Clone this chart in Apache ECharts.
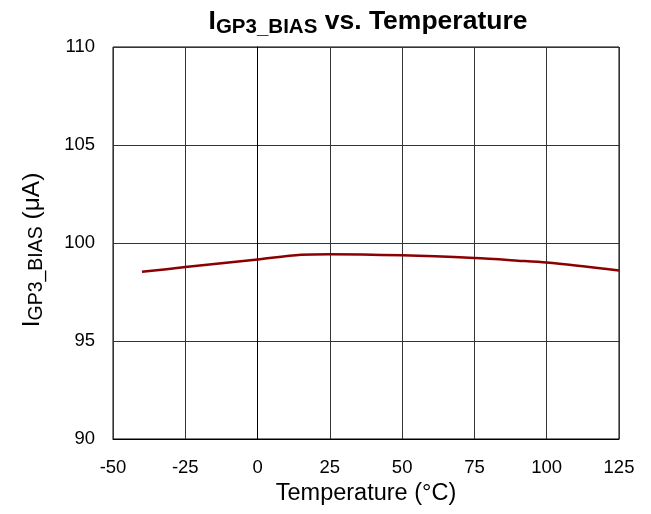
<!DOCTYPE html>
<html>
<head>
<meta charset="utf-8">
<script src="https://cdn.jsdelivr.net/npm/echarts@6/dist/echarts.min.js"></script>
<style>html,body{margin:0;padding:0;background:#fff;}#c{width:651px;height:514px;}</style>
</head>
<body>
<div id="c"></div>
<script>
const temperatures = [-40, -25, 0, 15, 25, 50, 75, 90, 100, 125];
const biasCurrent = [98.53, 98.77, 99.16, 99.40, 99.43, 99.37, 99.23, 99.10, 99.00, 98.60];
const xTicks = [-50, -25, 0, 25, 50, 75, 100, 125];
const yTicks = [90, 95, 100, 105, 110];

const chart = echarts.init(document.getElementById('c'), null, {renderer: 'canvas'});
const font = 'Arial, "Liberation Sans", sans-serif';
chart.setOption({
  animation: false,
  backgroundColor: '#fff',
  title: {
    text: '{m|I}{s|GP3_BIAS}{m| vs. Temperature}',
    left: 363, top: 0, textAlign: 'center',
    textStyle: {
      rich: {
        m: {fontFamily: font, fontSize: 26.5, fontWeight: 'bold', color: '#000'},
        s: {fontFamily: font, fontSize: 20.5, fontWeight: 'bold', color: '#000', padding: [12, 0, 0, 0]}
      }
    }
  },
  grid: {left: 113, right: 32, top: 47, bottom: 75, show: true, borderColor: '#000', borderWidth: 1},
  xAxis: {
    type: 'value', min: xTicks[0], max: xTicks[xTicks.length - 1], interval: 25,
    name: 'Temperature (°C)', nameLocation: 'middle', nameGap: 43,
    nameTextStyle: {fontFamily: font, fontSize: 23.5, color: '#000'},
    axisLine: {show: true, lineStyle: {color: '#000'}},
    axisTick: {show: false},
    axisLabel: {fontFamily: font, fontSize: 18.5, color: '#000', margin: 19},
    splitLine: {show: true, lineStyle: {color: '#333', width: 1}}
  },
  yAxis: {
    type: 'value', min: yTicks[0], max: yTicks[yTicks.length - 1], interval: 5,
    name: '{m|I}{s|GP3_BIAS}{m| (μA)}', nameLocation: 'middle', nameGap: 66,
    nameTextStyle: {
      padding: [0, 14, 0, 0],
      rich: {
        m: {fontFamily: font, fontSize: 24.5, color: '#000'},
        s: {fontFamily: font, fontSize: 19.5, color: '#000', padding: [9, 0, 0, 0]}
      }
    },
    axisLine: {show: true, lineStyle: {color: '#000'}},
    axisTick: {show: false},
    axisLabel: {fontFamily: font, fontSize: 18.5, color: '#000', margin: 18},
    splitLine: {show: true, lineStyle: {color: '#333', width: 1}}
  },
  series: [{
    type: 'line',
    data: temperatures.map((t, i) => [t, biasCurrent[i]]),
    smooth: 0.3,
    showSymbol: false,
    lineStyle: {color: '#8B0000', width: 2.5}
  }]
});
</script>
</body>
</html>
